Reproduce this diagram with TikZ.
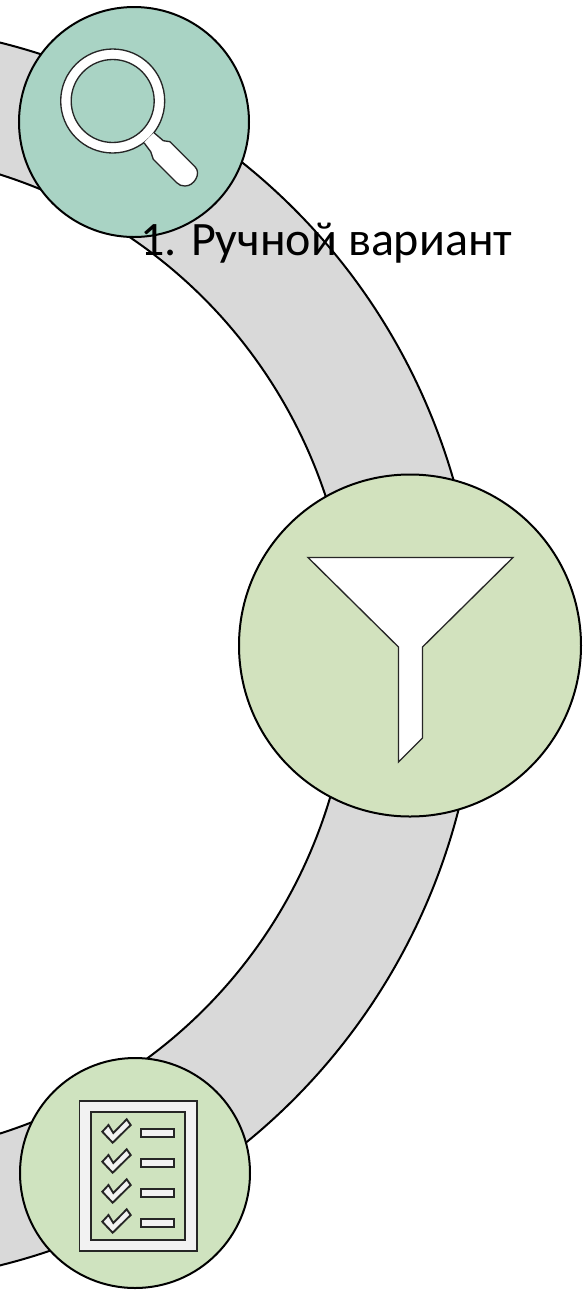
\documentclass[tikz,border=0pt]{standalone}
\usepackage{fontspec}
\setmainfont{Carlito}
\definecolor{clrBand}{HTML}{D9D9D9}
\definecolor{clrSearch}{HTML}{A9D3C4}
\definecolor{clrFilter}{HTML}{D2E2BE}
\definecolor{clrCheck}{HTML}{CFE3BF}
\definecolor{clrPaper}{HTML}{F2F2F2}
\tikzset{
  band/.style = {draw=black, line width=1.5pt, fill=clrBand},
  disc/.style = {circle, draw=black, line width=1.5pt, inner sep=0pt},
  icon/.style = {draw=black!85, line width=1pt, fill=white},
  paper/.style = {draw=black!85, line width=1.4pt, fill=clrPaper},
  caption/.style = {font=\fontsize{36pt}{42pt}\selectfont, text=black, inner sep=0pt},
  tickrow/.pic = {
    \draw[paper] (102.3,-1131.7) -- (108.5,-1125) -- (113.3,-1133) -- (126.7,-1119.3)
      -- (130.7,-1125) -- (112.7,-1142.7) -- cycle;
    \draw[paper] (141.3,-1129) rectangle (174.3,-1137);
  },
}

\begin{document}
\begin{tikzpicture}[x=0.75pt, y=0.75pt]

  \useasboundingbox (0,0) rectangle (583,-1290);
  \coordinate (Hub) at (-152,-654);

  % Grey band, cut off at the left edge
  \begin{scope}
    \clip (0,0) rectangle (583,-1290);
    \draw[band] ([shift={(110:630)}]Hub) arc[start angle=110, end angle=-110, radius=630]
      -- ([shift={(-110:503)}]Hub) arc[start angle=-110, end angle=110, radius=503] -- cycle;
  \end{scope}

  % Three discs on the band
  \node[disc, fill=clrSearch, minimum size=172.5pt] (Search) at (134,-122) {};
  \node[disc, fill=clrFilter, minimum size=256.5pt] (Filter) at (410,-645.5) {};
  \node[disc, fill=clrCheck,  minimum size=172.5pt] (Check)  at (135,-1173) {};

  % Magnifier
  \draw[icon, even odd rule] (112.7,-101) circle[radius=52] (112.7,-101) circle[radius=41.5];
  \draw[icon] (154,-132.7) -- (163.3,-140.7) -- (170,-141.7) -- (195,-166.7)
    to[out=-45, in=0, looseness=1.1] (185,-186) to[out=180, in=-45] (176.7,-182.7)
    -- (153.3,-159.3) -- (150.7,-151.7) -- (144,-142.7);

  % Funnel
  \draw[icon] (308,-557.5) -- (513,-557.5) -- (422.5,-647) -- (422.5,-738) -- (398.5,-762)
    -- (398.5,-647) -- cycle;

  % Checklist
  \draw[paper] (79.5,-1101) rectangle (197,-1251);
  \draw[draw=black!85, line width=1.4pt, fill=clrCheck] (91,-1112) rectangle (185.3,-1240);
  \pic at (0,0) {tickrow};
  \pic at (0,-30) {tickrow};
  \pic at (0,-60) {tickrow};
  \pic at (0,-90) {tickrow};

  % Caption
  \node[caption, anchor=base west] (Title) at (140,-255) {1. Ручной вариант};

\end{tikzpicture}
\end{document}
